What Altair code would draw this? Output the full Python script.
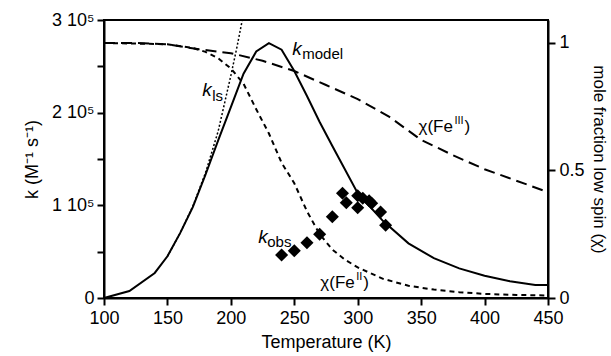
import altair as alt
import pandas as pd

# ---- data ----
T_model = [100, 120, 140, 150, 160, 170, 180, 190, 200, 210, 220, 230, 240, 250, 260,
           270, 280, 300, 320, 340, 360, 380, 400, 420, 440, 450]
k_model = [0, 7500, 27000, 45000, 70000, 98000, 133000, 170000, 206000, 242000, 266000,
           275000, 268000, 245000, 218000, 190000, 164000, 113000, 83000, 59000, 43000,
           32000, 24000, 18000, 14000, 14000]

T_ls = [150, 160, 170, 180, 190, 200, 205, 209]
k_ls = [45000, 70000, 99000, 135000, 180000, 240000, 272000, 300000]

T_obs = [240, 250, 260, 270, 280, 288, 291, 300, 300, 304, 309, 311, 318, 322]
k_obs = [46400, 51000, 59700, 68700, 87700, 113000, 102800, 110400, 97400, 107600,
         105000, 102200, 92800, 78500]

T_fe3 = [100, 125, 150, 175, 200, 225, 250, 275, 300, 325, 350, 375, 400, 425, 450]
chi_fe3 = [1.0, 1.0, 0.995, 0.975, 0.96, 0.93, 0.89, 0.835, 0.78, 0.71, 0.62, 0.56,
           0.505, 0.46, 0.415]

T_fe2 = [100, 150, 170, 180, 190, 200, 210, 220, 230, 240, 250, 260, 270, 280, 290,
         300, 320, 340, 360, 380, 400, 425, 450]
chi_fe2 = [1.0, 0.995, 0.98, 0.965, 0.94, 0.90, 0.84, 0.74, 0.645, 0.53, 0.45, 0.34,
           0.25, 0.19, 0.15, 0.12, 0.075, 0.048, 0.033, 0.023, 0.016, 0.012, 0.01]

# annotation anchors (data coordinates)
lab_main = ["k", "k", "k", "χ(Fe", "χ(Fe"]
lab_T = [248.4, 177.4, 221.6, 347.9, 270.5]
lab_k = [262200, 218000, 59350, 179500, 10800]

FONT = "Liberation Sans"
W, H = 444, 278

df_model = pd.DataFrame({"T": T_model, "k": k_model})
df_ls = pd.DataFrame({"T": T_ls, "k": k_ls})
df_obs = pd.DataFrame({"T": T_obs, "k": k_obs})
df_fe3 = pd.DataFrame({"T": T_fe3, "chi": chi_fe3})
df_fe2 = pd.DataFrame({"T": T_fe2, "chi": chi_fe2})

xscale = alt.Scale(domain=[100, 450], nice=False, zero=False)
kscale = alt.Scale(domain=[0, 300000], nice=False)
cscale = alt.Scale(domain=[0, 1.09], nice=False)

x_axis = alt.Axis(values=list(range(100, 451, 50)), title="Temperature (K)", grid=False,
                  tickSize=7, labelPadding=4, titlePadding=6, format="d", labelFlush=False)
k_axis = alt.Axis(values=list(range(0, 300001, 50000)), title="k (M⁻¹ s⁻¹)", grid=False,
                  tickSize=7, labelPadding=3, titlePadding=10, labelFlush=False,
                  labelExpr="datum.value % 100000 == 0 ? (datum.value == 0 ? '0' : format(datum.value/100000, 'd') + ' 10⁵') : ''")
c_axis = alt.Axis(values=[0, 0.5, 1], title="mole fraction low spin (χ)", grid=False,
                  orient="right", tickSize=7, labelPadding=4, titlePadding=5,
                  titleAngle=90, format="~g", labelFlush=False, titleFontSize=17)

X = alt.X("T:Q", scale=xscale, axis=x_axis)

model = alt.Chart(df_model).mark_line(color="black", strokeWidth=2).encode(
    x=X, y=alt.Y("k:Q", scale=kscale, axis=k_axis))
ls = alt.Chart(df_ls).mark_line(color="black", strokeWidth=1.5, strokeDash=[2, 2]).encode(
    x="T:Q", y="k:Q")
obs = alt.Chart(df_obs).mark_point(shape="diamond", filled=True, color="black",
                                   size=170, opacity=1).encode(x="T:Q", y="k:Q")

# annotations
def ann(i, text, dx=0, dy=0, size=18, italic=False):
    d = pd.DataFrame({"T": [lab_T[i]], "k": [lab_k[i]], "t": [text]})
    props = dict(align="left", baseline="alphabetic", fontSize=size, font=FONT,
                 color="black", dx=dx, dy=dy)
    if italic:
        props["fontStyle"] = "italic"
    return alt.Chart(d).mark_text(**props).encode(x="T:Q", y="k:Q", text="t:N")

texts = [
    ann(0, lab_main[0], size=19, italic=True), ann(0, "model", dx=10, dy=4, size=15),
    ann(1, lab_main[1], size=19, italic=True), ann(1, "ls", dx=10, dy=5, size=15),
    ann(2, lab_main[2], size=19, italic=True), ann(2, "obs", dx=9, dy=4, size=15),
    ann(3, lab_main[3], size=17), ann(3, "III", dx=36, dy=-8, size=11), ann(3, ")", dx=46, size=17),
    ann(4, lab_main[4], size=17), ann(4, "II", dx=36, dy=-8, size=11), ann(4, ")", dx=43, size=17),
]

left = alt.layer(model, ls, obs, *texts)

fe3 = alt.Chart(df_fe3).mark_line(color="black", strokeWidth=2, strokeDash=[11, 6]).encode(
    x="T:Q", y=alt.Y("chi:Q", scale=cscale, axis=c_axis))
fe2 = alt.Chart(df_fe2).mark_line(color="black", strokeWidth=2, strokeDash=[5, 4]).encode(
    x="T:Q", y=alt.Y("chi:Q", scale=cscale))
right = alt.layer(fe3, fe2)

chart = alt.layer(left, right).resolve_scale(y="independent").properties(
    width=W, height=H,
    autosize=alt.AutoSizeParams(type="none"),
    padding={"left": 104, "top": 20, "right": 63, "bottom": 58},
    background="white",
).configure_view(stroke="black", strokeWidth=2).configure_axis(
    domainColor="black", domainWidth=2, tickColor="black", tickWidth=2,
    labelColor="black", titleColor="black", labelFont=FONT, titleFont=FONT,
    labelFontSize=18, titleFontSize=18, titleFontWeight="normal",
)

chart.save("out.html", embed_options={"renderer": "svg", "actions": False})
